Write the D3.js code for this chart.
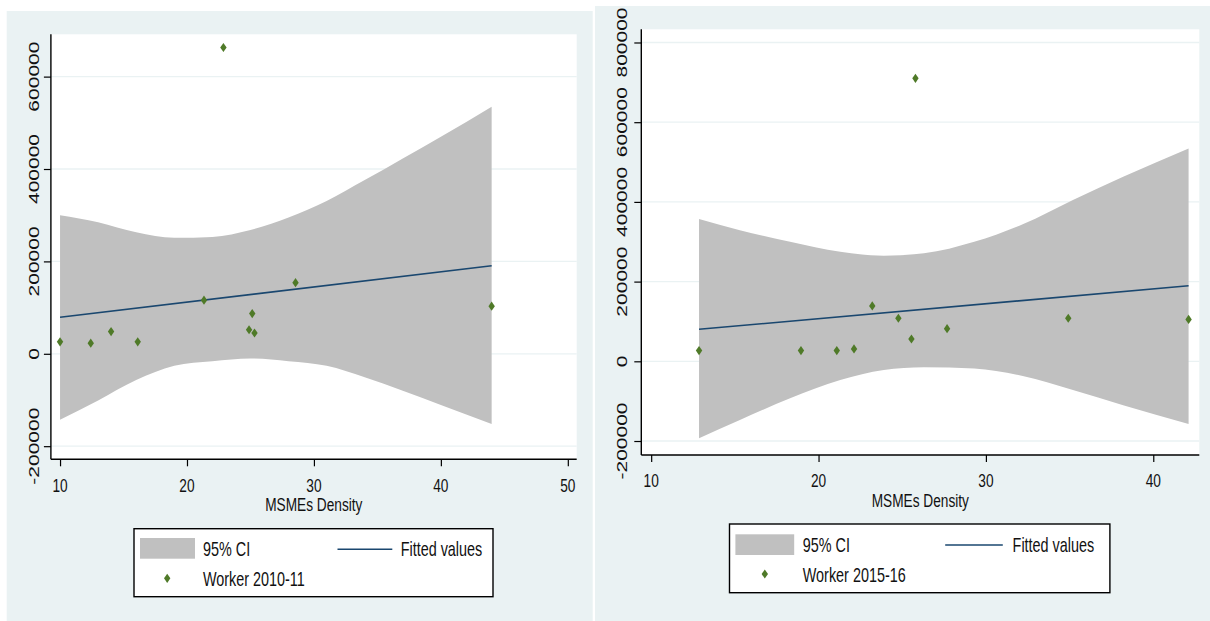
<!DOCTYPE html>
<html><head><meta charset="utf-8">
<script src="https://cdn.jsdelivr.net/npm/d3@7"></script>
<style>body{margin:0;background:#fff}svg{display:block}text{font-family:"Liberation Sans",Arial,sans-serif;fill:#111}</style>
</head><body>
<script>
// ---------- data ----------
const x2010 = [10.0, 12.42, 14.02, 16.12, 21.34, 22.87, 24.89, 25.14, 25.32, 28.55, 44.0];
const y2010 = [26000, 23000, 48000, 26000, 116000, 663000, 52000, 87000, 45000, 154000, 103000];
const fitX2010 = [10, 44];
const fitY2010 = [79000, 190700];
const ciX2010 = [10, 13, 16, 19, 22, 25, 28, 31, 34, 37, 40, 44];
const ciHi2010 = [300000, 285000, 263000, 251000, 253000, 268000, 295000, 331000, 376000, 423000, 470000, 535000];
const ciLo2010 = [-143000, -101000, -57000, -26000, -16000, -10000, -16000, -26000, -51000, -80000, -111000, -152000];

const x2015 = [12.86, 18.95, 21.09, 22.12, 23.21, 24.77, 25.55, 25.79, 27.68, 34.92, 42.11];
const y2015 = [27000, 27000, 27000, 31000, 139000, 108000, 56000, 710000, 82000, 108000, 105000];
const fitX2015 = [12.86, 42.11];
const fitY2015 = [80300, 189700];
const ciX2015 = [12.86, 15.3, 18.3, 21.3, 23.9, 26.3, 29.3, 32.2, 35.2, 38.2, 42.11];
const ciHi2015 = [357000, 329000, 300000, 275000, 265000, 271000, 300000, 344000, 405000, 463000, 534000];
const ciLo2015 = [-193000, -147000, -93000, -47000, -22000, -15000, -18000, -37000, -72000, -110000, -157000];

const xTicks2010 = [10, 20, 30, 40, 50];
const yTicks2010 = [-200000, 0, 200000, 400000, 600000];
const xTicks2015 = [10, 20, 30, 40];
const yTicks2015 = [-200000, 0, 200000, 400000, 600000, 800000];
const xTitle = "MSMEs Density";
const legendCI = "95% CI", legendFit = "Fitted values";
const legend2010 = "Worker 2010-11", legend2015 = "Worker 2015-16";

// ---------- style ----------
const BG = "#EAF2F3", GRID = "#EAF2F3", BAND = "#C0C0C0", LINE = "#1A476F", MARK = "#4F7A28";
const SX = 0.74; // horizontal squeeze of the original image

const svg = d3.select("body").append("svg").attr("width", 1210).attr("height", 621);

function txt(g, s, x, y, size, anchor, rot, sx) {
  let t = `translate(${x},${y}) scale(${sx || SX},1)`;
  if (rot) t += ` rotate(${rot})`;
  return g.append("text").attr("transform", t).attr("font-size", size)
    .attr("text-anchor", anchor || "start").text(s);
}
function diamond(g, x, y) {
  g.append("path").attr("d", `M${x},${y-4.6}L${x+3.2},${y}L${x},${y+4.6}L${x-3.2},${y}Z`).attr("fill", MARK);
}

function panel(o) {
  const g = svg.append("g");
  g.append("rect").attr("x", o.bg[0]).attr("y", o.bg[1]).attr("width", o.bg[2]).attr("height", o.bg[3]).attr("fill", BG);
  const L = o.plot[0], T = o.plot[1], R = o.plot[2], B = o.plot[3];
  g.append("rect").attr("x", L).attr("y", T).attr("width", R - L).attr("height", B - T).attr("fill", "#fff");
  const x = d3.scaleLinear().domain(o.xDom).range([L, R]);
  const y = d3.scaleLinear().domain(o.yDom).range([B, T]);
  // grid
  g.selectAll(null).data(o.yTicks).enter().append("line")
    .attr("x1", L).attr("x2", R).attr("y1", d => y(d)).attr("y2", d => y(d))
    .attr("stroke", GRID).attr("stroke-width", 1.3);
  // CI band
  const area = d3.area().x((d, i) => x(o.ciX[i])).y0((d, i) => y(o.ciLo[i])).y1((d, i) => y(o.ciHi[i]))
    .curve(d3.curveMonotoneX);
  g.append("path").datum(o.ciX).attr("d", area).attr("fill", BAND);
  // fitted line
  const ln = d3.line().x((d, i) => x(o.fitX[i])).y((d, i) => y(o.fitY[i]));
  g.append("path").datum(o.fitX).attr("d", ln).attr("stroke", LINE).attr("stroke-width", 1.6).attr("fill", "none");
  // points
  o.px.forEach((d, i) => diamond(g, x(d), y(o.py[i])));
  // axes
  const ax = g.append("g").attr("transform", `translate(0,${B})`)
    .call(d3.axisBottom(x).tickValues(o.xTicks).tickSize(7).tickFormat(""));
  ax.select(".domain").attr("d", `M${L},0H${R}`).attr("stroke", "#000").attr("stroke-width", 1.4);
  ax.selectAll(".tick line").attr("stroke", "#000").attr("stroke-width", 1.2);
  const ay = g.append("g").attr("transform", `translate(${L},0)`)
    .call(d3.axisLeft(y).tickValues(o.yTicks).tickSize(7).tickFormat(""));
  ay.select(".domain").attr("d", `M0,${T}V${B}`).attr("stroke", "#000").attr("stroke-width", 1.4);
  ay.selectAll(".tick line").attr("stroke", "#000").attr("stroke-width", 1.2);
  // tick labels
  o.xTicks.forEach(v => txt(g, String(v), x(v), o.xLabY, 18.5, "middle"));
  o.yTicks.forEach(v => txt(g, (v < 0 ? "-" : "") + Math.abs(v), o.yLabX, y(v), 21, "middle", -90));
  txt(g, xTitle, (L + R) / 2, o.titleY, 18.5, "middle");
  // legend
  const lg = o.leg;
  g.append("rect").attr("x", lg.box[0]).attr("y", lg.box[1]).attr("width", lg.box[2]).attr("height", lg.box[3])
    .attr("fill", "#fff").attr("stroke", "#000").attr("stroke-width", 1.4);
  g.append("rect").attr("x", lg.sw[0]).attr("y", lg.sw[1]).attr("width", lg.sw[2]).attr("height", lg.sw[3]).attr("fill", BAND);
  txt(g, legendCI, lg.t1[0], lg.t1[1], 20, "start", 0, 0.72);
  g.append("line").attr("x1", lg.ln[0]).attr("x2", lg.ln[1]).attr("y1", lg.ln[2]).attr("y2", lg.ln[2])
    .attr("stroke", LINE).attr("stroke-width", 1.6);
  txt(g, legendFit, lg.t2[0], lg.t2[1], 20, "start", 0, 0.72);
  diamond(g, lg.mk[0], lg.mk[1]);
  txt(g, o.legName, lg.t3[0], lg.t3[1], 20, "start", 0, 0.72);
}

panel({
  bg: [6.7, 11, 586, 610], plot: [50.9, 34.3, 576.7, 459.3],
  xDom: [9.28, 50.7], yDom: [-228400, 691600],
  xTicks: xTicks2010, yTicks: yTicks2010,
  ciX: ciX2010, ciHi: ciHi2010, ciLo: ciLo2010, fitX: fitX2010, fitY: fitY2010, px: x2010, py: y2010,
  xLabY: 491.7, yLabX: 38.5, titleY: 510.7, legName: legend2010,
  leg: { box: [134, 528.7, 359, 68], sw: [140, 538, 55, 20.7], t1: [203, 556], ln: [337.5, 392.3, 549.3],
         t2: [400.7, 556], mk: [167.2, 578.3], t3: [203, 586] }
});
panel({
  bg: [595, 6, 615, 615], plot: [641.3, 29.3, 1199.3, 455],
  xDom: [9.41, 42.75], yDom: [-235100, 833100],
  xTicks: xTicks2015, yTicks: yTicks2015,
  ciX: ciX2015, ciHi: ciHi2015, ciLo: ciLo2015, fitX: fitX2015, fitY: fitY2015, px: x2015, py: y2015,
  xLabY: 487.3, yLabX: 626.8, titleY: 506.7, legName: legend2015,
  leg: { box: [729.5, 524, 380.4, 68.7], sw: [735.4, 534.3, 58.8, 20.7], t1: [802.8, 552.3], ln: [945.2, 1002.8, 545],
         t2: [1012.6, 552.3], mk: [764.8, 574], t3: [802.8, 581.7] }
});
</script>
</body></html>
